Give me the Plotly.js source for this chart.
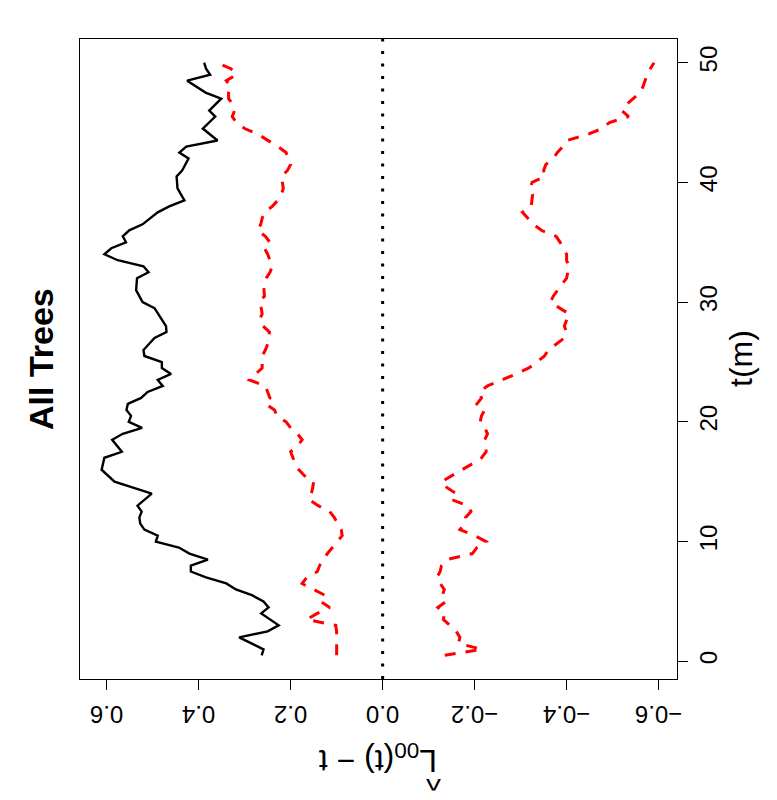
<!DOCTYPE html>
<html>
<head>
<meta charset="utf-8">
<script src="https://cdn.plot.ly/plotly-3.0.1.min.js"></script>
<style>
  html, body { margin: 0; padding: 0; background: #ffffff; }
  #chart { width: 777px; height: 800px; }
</style>
</head>
<body>
<div id="chart"></div>
<script>
// Observed L(t) - t, all trees (t in metres)
var obsT = [0.5, 1, 2, 2.5, 3, 4, 4.5, 5, 5.5, 6, 6.5, 7, 7.5, 8, 8.5, 9, 9.5, 10, 10.5, 11,
  11.5, 12, 12.5, 13, 14, 14.5, 15, 16, 17, 17.5, 18.5, 19, 19.5, 20, 20.5, 21, 21.5, 22,
  22.5, 23, 23.5, 24, 24.5, 25, 25.5, 26, 27, 27.5, 28, 29.5, 30, 31, 32, 32.5, 33, 33.5,
  34, 34.5, 35, 35.5, 36, 36.5, 37.5, 38, 38.5, 39.5, 40.5, 41, 42, 42.5, 43, 43.5, 44.5,
  45.5, 46, 47, 47.5, 48.5, 49, 49.5, 50];
var obsL = [0.263, 0.259, 0.312, 0.250, 0.226, 0.264, 0.248, 0.259, 0.283, 0.319, 0.340,
  0.384, 0.417, 0.417, 0.380, 0.420, 0.443, 0.493, 0.489, 0.518, 0.527, 0.529, 0.524,
  0.533, 0.502, 0.543, 0.583, 0.611, 0.605, 0.567, 0.588, 0.565, 0.523, 0.552, 0.547,
  0.557, 0.554, 0.525, 0.511, 0.478, 0.489, 0.460, 0.480, 0.480, 0.518, 0.520, 0.496,
  0.470, 0.471, 0.496, 0.522, 0.536, 0.534, 0.509, 0.520, 0.576, 0.605, 0.590, 0.558,
  0.565, 0.551, 0.522, 0.489, 0.464, 0.431, 0.446, 0.448, 0.436, 0.422, 0.442, 0.427,
  0.359, 0.391, 0.364, 0.377, 0.351, 0.385, 0.425, 0.375, 0.384, 0.388];

// Simulation envelope
var envT = [0.5, 1, 1.5, 2, 2.5, 3, 3.5, 4, 4.5, 5, 5.5, 6, 6.5, 7, 7.5, 8, 8.5, 9, 9.5, 10,
  10.5, 11, 11.5, 12, 12.5, 13, 13.5, 14, 14.5, 15, 15.5, 16, 16.5, 17, 17.5, 18, 18.5, 19,
  19.5, 20, 20.5, 21, 21.5, 22, 22.5, 23, 23.5, 24, 24.5, 25, 25.5, 26, 26.5, 27, 27.5, 28,
  28.5, 29, 29.5, 30, 30.5, 31, 31.5, 32, 32.5, 33, 33.5, 34, 34.5, 35, 35.5, 36, 36.5, 37,
  37.5, 38, 38.5, 39, 39.5, 40, 40.5, 41, 41.5, 42, 42.5, 43, 43.5, 44, 44.5, 45, 45.5, 46,
  46.5, 47, 47.5, 48, 48.5, 49, 49.5, 50];
var envHi = [0.100, 0.100, 0.100, 0.100, 0.100, 0.102, 0.165, 0.142, 0.115, 0.135, 0.125,
  0.150, 0.175, 0.165, 0.142, 0.137, 0.130, 0.120, 0.110, 0.100, 0.088, 0.090, 0.098,
  0.105, 0.115, 0.140, 0.160, 0.155, 0.152, 0.150, 0.170, 0.182, 0.190, 0.195, 0.200,
  0.185, 0.175, 0.185, 0.200, 0.210, 0.230, 0.235, 0.255, 0.245, 0.250, 0.255, 0.290,
  0.275, 0.262, 0.262, 0.262, 0.255, 0.250, 0.248, 0.246, 0.260, 0.268, 0.262, 0.264,
  0.268, 0.257, 0.258, 0.257, 0.253, 0.245, 0.240, 0.245, 0.250, 0.257, 0.245, 0.255,
  0.272, 0.265, 0.262, 0.257, 0.240, 0.228, 0.220, 0.216, 0.218, 0.220, 0.207, 0.200,
  0.205, 0.210, 0.228, 0.250, 0.270, 0.300, 0.318, 0.327, 0.322, 0.325, 0.335, 0.335,
  0.330, 0.340, 0.318, 0.330, 0.360];
var envLo = [-0.135, -0.215, -0.165, -0.168, -0.160, -0.147, -0.132, -0.135, -0.120, -0.138,
  -0.130, -0.134, -0.125, -0.118, -0.125, -0.128, -0.140, -0.195, -0.205, -0.225, -0.200,
  -0.168, -0.178, -0.180, -0.192, -0.185, -0.150, -0.160, -0.140, -0.128, -0.150, -0.175,
  -0.195, -0.215, -0.225, -0.225, -0.222, -0.228, -0.222, -0.212, -0.215, -0.222, -0.205,
  -0.215, -0.210, -0.228, -0.260, -0.290, -0.318, -0.335, -0.352, -0.360, -0.378, -0.395,
  -0.400, -0.395, -0.400, -0.406, -0.385, -0.365, -0.371, -0.380, -0.390, -0.400, -0.402,
  -0.405, -0.400, -0.400, -0.392, -0.386, -0.377, -0.345, -0.328, -0.315, -0.304, -0.323,
  -0.325, -0.326, -0.320, -0.325, -0.353, -0.350, -0.355, -0.371, -0.380, -0.392, -0.400,
  -0.445, -0.477, -0.493, -0.535, -0.520, -0.530, -0.545, -0.560, -0.566, -0.570, -0.575,
  -0.582, -0.590];

var lTicks = [0.6, 0.4, 0.2, 0, -0.2, -0.4, -0.6];
var lTickText = ['0.6', '0.4', '0.2', '0.0', '\u22120.2', '\u22120.4', '\u22120.6'];
var tTicks = [0, 10, 20, 30, 40, 50];
var ZERO_LINE = 0;

var FONT = 'Liberation Sans, Arial, Helvetica, sans-serif';

// The R plot is turned a quarter turn: L on the horizontal axis (reversed), t vertical
var traces = [
  {
    x: obsL, y: obsT, type: 'scatter', mode: 'lines',
    line: { color: '#000000', width: 2.4 },
    hoverinfo: 'skip'
  },
  {
    x: envHi, y: envT, type: 'scatter', mode: 'lines',
    line: { color: '#ff0000', width: 3, dash: '11px,10px' },
    hoverinfo: 'skip'
  },
  {
    x: envLo, y: envT, type: 'scatter', mode: 'lines',
    line: { color: '#ff0000', width: 3, dash: '11px,10px' },
    hoverinfo: 'skip'
  }
];

var axisCommon = {
  showgrid: false,
  zeroline: false,
  showline: true,
  mirror: true,
  linecolor: '#000000',
  linewidth: 1,
  ticks: 'outside',
  ticklen: 10,
  tickwidth: 1,
  tickcolor: '#000000',
  tickfont: { family: FONT, size: 24, color: '#000000' }
};

var layout = {
  width: 777,
  height: 800,
  paper_bgcolor: '#ffffff',
  plot_bgcolor: '#ffffff',
  showlegend: false,
  margin: { l: 80, r: 100, t: 39, b: 121 },
  xaxis: Object.assign({}, axisCommon, {
    range: [0.658, -0.640],
    tickmode: 'array',
    tickvals: lTicks,
    ticktext: lTickText,
    tickangle: 180,
    ticklabelstandoff: 11
  }),
  yaxis: Object.assign({}, axisCommon, {
    side: 'right',
    range: [-1.48, 51.98],
    tickmode: 'array',
    tickvals: tTicks,
    tickangle: -90,
    ticklabelstandoff: 0
  }),
  shapes: [{
    type: 'line', xref: 'x', yref: 'paper',
    x0: ZERO_LINE, x1: ZERO_LINE, y0: 0, y1: 1,
    line: { color: '#000000', width: 3, dash: '3px,9.5px' }
  }],
  annotations: [
    {
      text: '<b>All Trees</b>', xref: 'paper', yref: 'paper',
      x: 0, y: 0.5, xshift: -39, xanchor: 'center', yanchor: 'middle',
      textangle: -90, showarrow: false,
      font: { family: FONT, size: 34, color: '#000000' }
    },
    {
      text: 't(m)', xref: 'paper', yref: 'paper',
      x: 1, y: 0.5, xshift: 64, xanchor: 'center', yanchor: 'middle',
      textangle: -90, showarrow: false,
      font: { family: FONT, size: 32, color: '#000000' }
    },
    {
      text: 'L<sub>00</sub>(t) \u2212 t', xref: 'paper', yref: 'paper',
      x: 0.5, y: 0, yshift: -80, xanchor: 'center', yanchor: 'middle',
      textangle: 180, showarrow: false,
      font: { family: FONT, size: 32, color: '#000000' }
    },
    {
      // hat over the L, upside down with the rest of the label
      text: '^', xref: 'paper', yref: 'paper',
      x: 0.5, y: 0, xshift: 55, yshift: -101, xanchor: 'center', yanchor: 'middle',
      textangle: 180, showarrow: false,
      font: { family: FONT, size: 32, color: '#000000' }
    }
  ]
};

Plotly.newPlot('chart', traces, layout, { staticPlot: true, displayModeBar: false });
</script>
</body>
</html>
